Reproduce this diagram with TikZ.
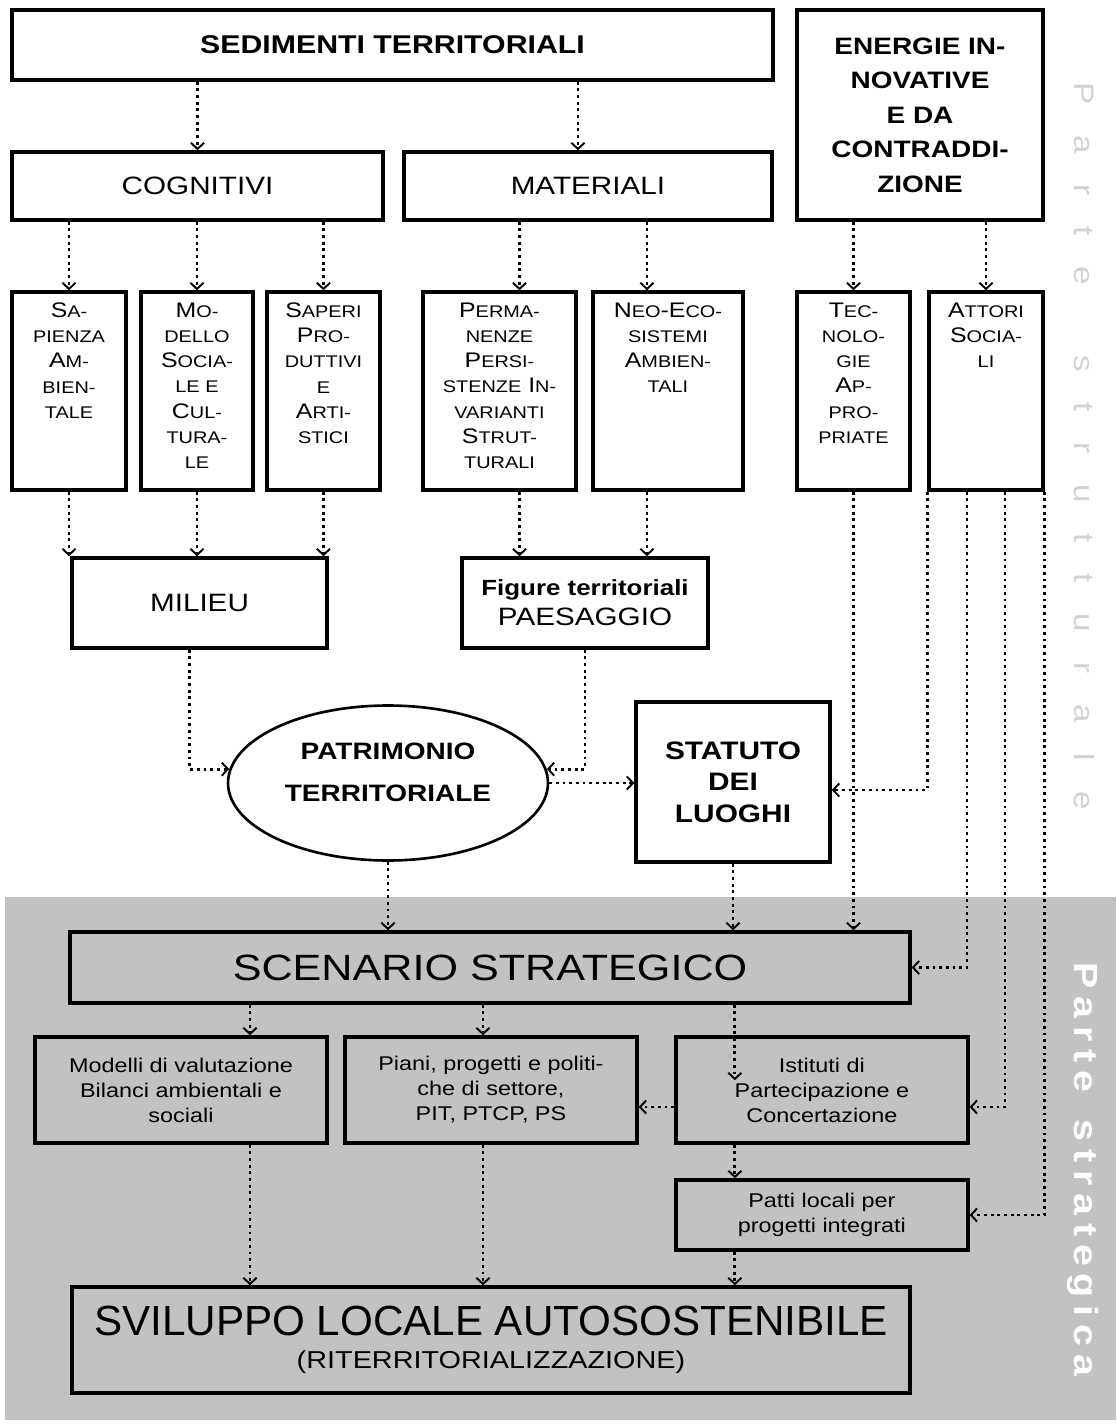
\documentclass[tikz,border=0pt]{standalone}
\usepackage{fontspec}
\setmainfont{Liberation Sans}[FakeStretch=1.18]
\newfontfamily\narrowsans{Liberation Sans}
\usetikzlibrary{arrows.meta,shapes.geometric}
\newcommand\sm[1]{{\fontsize{9.6}{14.4}\selectfont #1}}
\newcommand\topbox[2]{\parbox[c][3.96cm][t]{#1}{\centering\vspace*{6pt}#2}}
\makeatletter
\newcommand\spreadout[2]{\@tfor\spread@ch:=#2\do{\spread@ch\kern#1}}
\makeatother
\begin{document}
\begin{tikzpicture}[x=0.02cm, y=-0.02cm,
    block/.style={rectangle, draw, line width=2pt, inner sep=2pt, align=center, font=\fontsize{14.3}{17}\selectfont},
    tall/.style={rectangle, draw, line width=2pt, inner sep=0pt, font=\fontsize{12}{14.4}\selectfont},
    sbox/.style={block, minimum width=5.84cm, minimum height=2.12cm, font=\fontsize{11.3}{14.2}\selectfont},
    line/.style={draw, line width=1.6pt, dash pattern=on 1.6pt off 2.2pt, -{Straight Barb[length=3.5pt,width=7.5pt,line width=1.1pt]}}]
    \useasboundingbox (0,0) rectangle (1116,1425);
    \fill[gray!48] (5,897) rectangle (1116,1420);

    \node[block, minimum width=15.22cm, minimum height=1.4cm, font=\bfseries\fontsize{14.6}{17}\selectfont] (sed) at (392.5,45) {SEDIMENTI TERRITORIALI};
    \node[block, minimum width=4.92cm, minimum height=4.2cm, font=\bfseries\fontsize{13.5}{19.6}\selectfont] (ener) at (920,115) {ENERGIE IN-\\NOVATIVE\\E DA\\CONTRADDI-\\ZIONE};
    \node[block, minimum width=7.42cm, minimum height=1.36cm] (cog) at (197.5,186) {COGNITIVI};
    \node[block, minimum width=7.36cm, minimum height=1.36cm, right of=cog, node distance=7.81cm] (mat) {MATERIALI};

    \node[tall] (sap) at (69,391) {\topbox{2.28cm}{S\sm{A-}\\\sm{PIENZA}\\A\sm{M-}\\\sm{BIEN-}\\\sm{TALE}}};
    \node[tall, right of=sap, node distance=2.56cm] (mod) {\topbox{2.24cm}{M\sm{O-}\\\sm{DELLO}\\S\sm{OCIA-}\\\sm{LE E}\\C\sm{UL-}\\\sm{TURA-}\\\sm{LE}}};
    \node[tall, right of=mod, node distance=2.53cm] (sape) {\topbox{2.26cm}{S\sm{APERI}\\P\sm{RO-}\\\sm{DUTTIVI}\\\sm{E}\\A\sm{RTI-}\\\sm{STICI}}};
    \node[tall] (perm) at (499.5,391) {\topbox{3.06cm}{P\sm{ERMA-}\\\sm{NENZE}\\P\sm{ERSI-}\\\sm{STENZE} I\sm{N-}\\\sm{VARIANTI}\\S\sm{TRUT-}\\\sm{TURALI}}};
    \node[tall, right of=perm, node distance=3.37cm] (neo) {\topbox{3.0cm}{N\sm{EO}-E\sm{CO-}\\\sm{SISTEMI}\\A\sm{MBIEN-}\\\sm{TALI}}};
    \node[tall] (tec) at (853.5,391) {\topbox{2.26cm}{T\sm{EC-}\\\sm{NOLO-}\\\sm{GIE}\\A\sm{P-}\\\sm{PRO-}\\\sm{PRIATE}}};
    \node[tall, right of=tec, node distance=2.65cm] (att) {\topbox{2.28cm}{A\sm{TTORI}\\S\sm{OCIA-}\\\sm{LI}}};

    \node[block, minimum width=5.1cm, minimum height=1.8cm] (mil) at (199.5,603) {MILIEU};
    \node[block, minimum width=4.92cm, minimum height=1.8cm] (fig) at (585,603) {{\bfseries\fontsize{12.5}{15}\selectfont Figure territoriali}\\PAESAGGIO};
    \node[ellipse, draw, line width=1.5pt, minimum width=6.4cm, minimum height=3.1cm, inner sep=0pt, align=center, font=\bfseries\fontsize{13.5}{24}\selectfont] (pat) at (388,783) {PATRIMONIO\\TERRITORIALE\\[-12pt]};
    \node[block, minimum width=3.88cm, minimum height=3.2cm, font=\bfseries\fontsize{14.4}{18}\selectfont] (sta) at (733,782) {STATUTO\\DEI\\LUOGHI};

    \node[block, minimum width=16.8cm, minimum height=1.42cm, font=\fontsize{20.8}{24}\selectfont] (sce) at (490,967.5) {SCENARIO STRATEGICO};
    \node[sbox] (mv) at (181,1090) {Modelli di valutazione\\Bilanci ambientali e\\sociali};
    \node[sbox, right of=mv, node distance=6.2cm] (pia) {Piani, progetti e politi-\\che di settore,\\PIT, PTCP, PS};
    \node[sbox, right of=pia, node distance=6.62cm] (ist) {Istituti di\\Partecipazione e\\Concertazione};
    \node[sbox, minimum height=1.4cm, below of=ist, node distance=2.5cm] (patti) {Patti locali per\\progetti integrati};
    \node[block, minimum width=16.76cm, minimum height=2.12cm] (svi) at (491,1340) {{\narrowsans\fontsize{24}{28}\selectfont SVILUPPO LOCALE AUTOSOSTENIBILE}\\[2pt]{\fontsize{13.9}{16}\selectfont (RITERRITORIALIZZAZIONE)}};

    \node[rotate=-90, anchor=west, inner sep=0pt, text=gray!35, font=\fontsize{16}{16}\selectfont] (strut) at (1085,82) {\spreadout{17.5pt}{Parte~strutturale}};
    \node[rotate=-90, anchor=west, inner sep=0pt, text=white, font=\bfseries\fontsize{19}{19}\selectfont] (strat) at (1083,962) {\spreadout{4.5pt}{Parte~strategica}};

    \coordinate (matin) at ([xshift=-0.2cm]mat.north);
    \coordinate (permin) at ([xshift=0.4cm]perm.north);
    \coordinate (neoin) at ([xshift=-0.42cm]neo.north);
    \coordinate (permout) at ([xshift=0.4cm]perm.south);
    \coordinate (neoout) at ([xshift=-0.42cm]neo.south);
    \coordinate (milout) at ([xshift=-0.2cm]mil.south);
    \coordinate (att1) at ([xshift=-0.38cm]att.south);
    \coordinate (att2) at ([xshift=0.38cm]att.south);
    \coordinate (mvin) at ([xshift=1.38cm]mv.north);
    \coordinate (piain) at ([xshift=-0.16cm]pia.north);
    \coordinate (istin) at ([xshift=-1.74cm]ist.north);
    \coordinate (istend) at ([xshift=-1.74cm,yshift=-0.9cm]ist.north);
    \coordinate (istout) at ([xshift=-1.74cm]ist.south);
    \coordinate (mvout) at ([xshift=1.38cm]mv.south);
    \coordinate (piaout) at ([xshift=-0.16cm]pia.south);
    \coordinate (pattiout) at ([xshift=-1.74cm]patti.south);

    \path [line] (sed.south -| cog.north) -- (cog.north);
    \path [line] (sed.south -| matin) -- (matin);
    \foreach \n in {sap,mod,sape} \path [line] (cog.south -| \n.north) -- (\n.north);
    \path [line] (mat.south -| permin) -- (permin);
    \path [line] (mat.south -| neoin) -- (neoin);
    \path [line] (ener.south -| tec.north) -- (tec.north);
    \path [line] (ener.south -| att.north) -- (att.north);

    \foreach \n in {sap,mod,sape} \path [line] (\n.south) -- (\n.south |- mil.north);
    \path [line] (permout) -- (permout |- fig.north);
    \path [line] (neoout) -- (neoout |- fig.north);

    \path [line] (milout) |- (pat.175);
    \path [line] (fig.south) |- (pat.5);
    \path [line] (pat.east) -- (pat.east -| sta.west);
    \path [line] (pat.south) -- (pat.south |- sce.north);
    \path [line] (sta.south) -- (sta.south |- sce.north);
    \path [line] (tec.south) -- (tec.south |- sce.north);

    \path [line] (att.south west) |- ([yshift=-0.16cm]sta.east);
    \path [line] (att1) |- (sce.east);
    \path [line] (att2) |- ([yshift=-0.34cm]ist.east);
    \path [line] (att.south east) |- (patti.east);

    \path [line] (sce.south -| mvin) -- (mvin);
    \path [line] (sce.south -| piain) -- (piain);
    \path [line] (sce.south -| istin) -- (istend);
    \path [line] ([yshift=-0.34cm]ist.west) -- ([yshift=-0.34cm]pia.east);
    \path [line] (istout) -- (istout |- patti.north);
    \path [line] (mvout) -- (mvout |- svi.north);
    \path [line] (piaout) -- (piaout |- svi.north);
    \path [line] (pattiout) -- (pattiout |- svi.north);
\end{tikzpicture}
\end{document}
